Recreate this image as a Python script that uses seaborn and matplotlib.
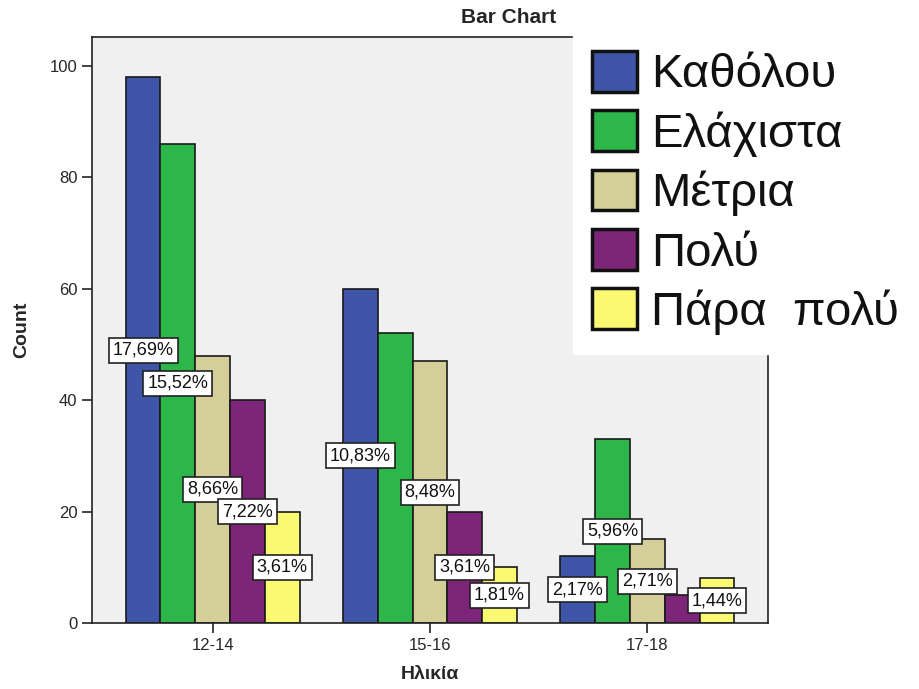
import matplotlib
matplotlib.use("Agg")
import matplotlib.pyplot as plt
import seaborn as sns
import pandas as pd

# Δεδομένα (Count ανά ηλικία και απάντηση)
ages = ["12-14", "15-16", "17-18"]
answers = ["Καθόλου", "Ελάχιστα", "Μέτρια", "Πολύ", "Πάρα  πολύ"]
katholou = [98, 60, 12]
elaxista = [86, 52, 33]
metria = [48, 47, 15]
poly = [40, 20, 5]
para_poly = [20, 10, 8]

# Ετικέτες ποσοστών όπως φαίνονται (None = κρυμμένη)
pct_labels = [
    ["17,69%", "10,83%", "2,17%"],
    ["15,52%", None, "5,96%"],
    ["8,66%", "8,48%", "2,71%"],
    ["7,22%", "3,61%", None],
    ["3,61%", "1,81%", "1,44%"],
]

colors = ["#3F56A8", "#2DB64A", "#D4CF98", "#7C2579", "#FBF872"]

series = [katholou, elaxista, metria, poly, para_poly]
rows = []
for ans, vals in zip(answers, series):
    for age, v in zip(ages, vals):
        rows.append({"Ηλικία": age, "Count": v, "answer": ans})
df = pd.DataFrame(rows)

sns.set_style("ticks")
plt.rcParams["font.family"] = ["Liberation Sans", "DejaVu Sans"]

fig = plt.figure(figsize=(9.19, 6.89), dpi=100)
ax = fig.add_axes([92 / 919, 66 / 689, 676 / 919, 586 / 689])
ax.set_facecolor("#F0F0F0")

sns.barplot(data=df, x="Ηλικία", y="Count", hue="answer", hue_order=answers,
            palette=colors, width=0.8, edgecolor="#1a1a1a", linewidth=1.2,
            saturation=1, ax=ax)

handles, labels = ax.get_legend_handles_labels()
ax.get_legend().remove()

# ετικέτες ποσοστών στη μέση κάθε μπάρας
z = 10
for j in range(len(ages)):
    for i, cont in enumerate(ax.containers):
        txt = pct_labels[i][j]
        if txt is None:
            continue
        bar = cont[j]
        ax.text(bar.get_x() + bar.get_width() / 2, bar.get_height() / 2, txt,
                ha="center", va="center", fontsize=13, color="#111111", zorder=z,
                bbox=dict(boxstyle="square,pad=0.22", fc="white", ec="#222222", lw=1.2))
        z += 1

ax.set_xlim(-0.555, 2.555)
ax.set_ylim(0, 105.2)
ax.set_yticks([0, 20, 40, 60, 80, 100])
ax.tick_params(labelsize=12, length=7, width=1.2, color="#222222")
ax.set_xlabel("")
ax.set_ylabel("")
for s in ax.spines.values():
    s.set_visible(True)
    s.set_color("#222222")
    s.set_linewidth(1.2)

fig.text(0.553, 0.975, "Bar Chart", ha="center", va="center",
         fontsize=15, fontweight="bold")
fig.text(22 / 919, 0.521, "Count", rotation=90, ha="center", va="center",
         fontsize=14, fontweight="bold")
fig.text(430 / 919, 0.021, "Ηλικία", ha="center", va="center",
         fontsize=14, fontweight="bold")

for h in handles:
    h.set_edgecolor("#111111")
    h.set_linewidth(2.5)

leg = fig.legend(handles, labels, loc="upper left",
                 bbox_to_anchor=(573 / 919, 1 - 32 / 689),
                 fontsize=34, handlelength=0.95, handleheight=0.95,
                 handletextpad=0.3, borderpad=0.4, labelspacing=0.27,
                 frameon=True, fancybox=False, framealpha=1,
                 facecolor="white", edgecolor="white", borderaxespad=0)
for t in leg.get_texts():
    t.set_color("#111111")

fig.savefig("out.png", dpi=100)
